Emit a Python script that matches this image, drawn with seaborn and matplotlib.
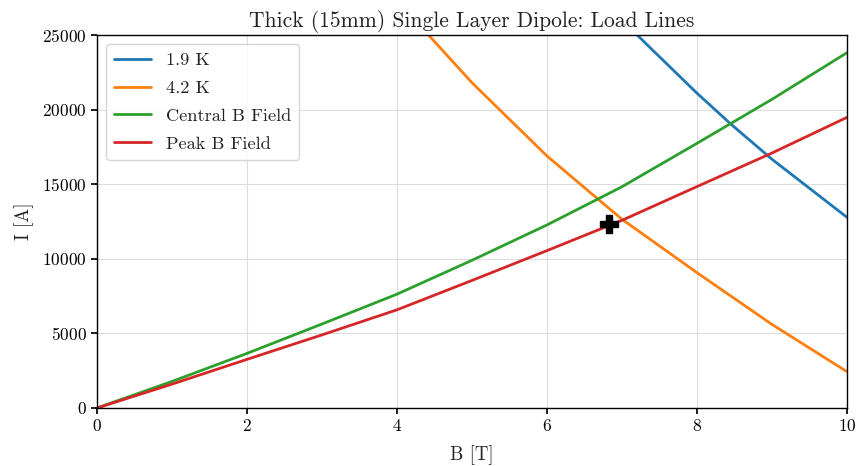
import matplotlib
matplotlib.use("Agg")
import matplotlib.pyplot as plt
import seaborn as sns
import pandas as pd

# Data
b_19K = [7.0, 7.37, 8.0, 8.45, 9.0, 10.0]
i_19K = [26000, 24175, 21100, 19035, 16670, 12780]
b_42K = [4.0, 4.42, 5.0, 6.0, 6.68, 7.0, 8.0, 9.0, 10.0]
i_42K = [27400, 25000, 21800, 16890, 14000, 12650, 9070, 5600, 2435]
b_field = [0, 1, 2, 3, 4, 5, 6, 7, 8, 9, 10]
i_central = [0, 1780, 3660, 5630, 7630, 9900, 12270, 14830, 17740, 20690, 23815]
i_peak = [0, 1600, 3260, 4900, 6580, 8550, 10550, 12580, 14840, 17090, 19480]
op_b = [6.83]
op_i = [12330]

sns.set_theme(style="whitegrid")
plt.rcParams.update({
    "font.family": "serif",
    "font.serif": ["cmr10", "DejaVu Serif"],
    "mathtext.fontset": "cm",
    "axes.formatter.use_mathtext": True,
    "axes.unicode_minus": False,
    "axes.edgecolor": "black",
    "axes.linewidth": 1.0,
    "grid.color": "#dddddd",
    "grid.linewidth": 0.8,
    "xtick.bottom": True,
    "ytick.left": True,
    "xtick.direction": "out",
    "ytick.direction": "out",
    "xtick.major.size": 4,
    "ytick.major.size": 4,
    "xtick.color": "black",
    "ytick.color": "black",
    "text.color": "#222222",
})

fig = plt.figure(figsize=(8.57, 4.66), dpi=100)
ax = fig.add_axes([97/857, 1 - 408/466, 750/857, 373/466])

pal = sns.color_palette("tab10")
df19 = pd.DataFrame({"B": b_19K, "I": i_19K})
df42 = pd.DataFrame({"B": b_42K, "I": i_42K})
dfc = pd.DataFrame({"B": b_field, "I": i_central})
dfp = pd.DataFrame({"B": b_field, "I": i_peak})

sns.lineplot(data=df19, x="B", y="I", ax=ax, color=pal[0], lw=2, label="1.9 K", sort=False)
sns.lineplot(data=df42, x="B", y="I", ax=ax, color=pal[1], lw=2, label="4.2 K", sort=False)
sns.lineplot(data=dfc, x="B", y="I", ax=ax, color=pal[2], lw=2, label="Central B Field", sort=False)
sns.lineplot(data=dfp, x="B", y="I", ax=ax, color=pal[3], lw=2, label="Peak B Field", sort=False)
ax.plot(op_b, op_i, marker="P", color="black", markersize=13, linestyle="none")

ax.set_xlim(0, 10)
ax.set_ylim(0, 25000)
ax.set_xticks([0, 2, 4, 6, 8, 10])
ax.set_yticks([0, 5000, 10000, 15000, 20000, 25000])
ax.tick_params(labelsize=12.5)
for s in ax.spines.values():
    s.set_color("black")
    s.set_visible(True)

ax.set_title("Thick (15mm) Single Layer Dipole: Load Lines", fontsize=15.5)
ax.set_xlabel("B [T]", fontsize=13.5, labelpad=8)
ax.set_ylabel("I [A]", fontsize=13.5, labelpad=6)
leg = ax.legend(loc="upper left", fontsize=13.2, frameon=True, labelspacing=0.65,
                borderpad=0.45, handlelength=2.0, handletextpad=0.8)
leg.get_frame().set_edgecolor("#cccccc")

fig.savefig("out.png", dpi=100)
